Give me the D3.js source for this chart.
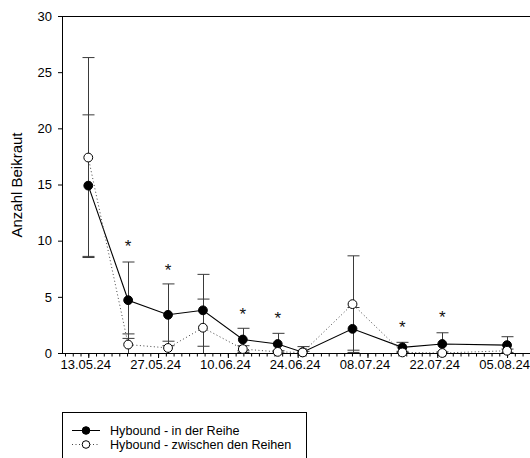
<!DOCTYPE html>
<html><head><meta charset="utf-8">
<script src="https://cdn.jsdelivr.net/npm/d3@7"></script>
<style>
html,body{margin:0;padding:0;background:#fff;}
svg{display:block;font-family:"Liberation Sans",Arial,sans-serif;}
</style></head>
<body>
<svg id="chart" width="530" height="458"></svg>
<script>
// ---- data ----
const sampleDates = ["13.05.24","21.05.24","29.05.24","05.06.24","13.06.24","20.06.24","25.06.24","05.07.24","15.07.24","23.07.24","05.08.24"];
const inRowMean   = [14.9, 4.7, 3.4, 3.8, 1.2, 0.8, 0.07, 2.15, 0.5, 0.8, 0.7];
const inRowSD     = [6.3, 3.4, 2.75, 3.2, 1.0, 0.95, 0.5, 1.9, 0.45, 1.0, 0.75];
const betweenMean = [17.4, 0.75, 0.45, 2.25, 0.35, 0.1, 0.05, 4.35, 0.05, 0.0, 0.2];
const betweenSD   = [8.9, 0.95, 0.6, 2.55, 0.3, 0.1, 0.1, 4.3, 0.1, 0.1, 0.15];
const sigLevel    = [null, 9.8, 7.7, null, 3.75, 3.4, null, null, 2.65, 3.55, null];
const xTickDates  = ["13.05.24","27.05.24","10.06.24","24.06.24","08.07.24","22.07.24","05.08.24"];
const yTicks      = [0,5,10,15,20,25,30];
const seriesNames = ["Hybound - in der Reihe","Hybound - zwischen den Reihen"];

(function(){
// ---- layout ----
const parse = d3.utcParse("%d.%m.%y");
const DAY = 864e5;
const x0 = parse("13.05.24");
const pL = 62, pR = 530, pT = 16, pB = 353;
const x = d3.scaleUtc()
  .domain([new Date(+x0 - 5.27*DAY), new Date(+x0 + 88.6*DAY)])
  .range([pL, pR]);
const y = d3.scaleLinear().domain([0,30]).range([pB, pT]);

const svg = d3.select("#chart");
svg.append("defs").append("clipPath").attr("id","clip")
  .append("rect").attr("x",pL).attr("y",0).attr("width",pR-pL).attr("height",pB);

// y axis
const yAxis = svg.append("g").attr("transform",`translate(${pL},0)`)
  .call(d3.axisLeft(y).tickValues(yTicks).tickSize(4).tickPadding(6).tickSizeOuter(0));
yAxis.select(".domain").attr("stroke","#000");
yAxis.selectAll("text").attr("font-size",13).attr("fill","#000").attr("font-family","Liberation Sans, Arial, sans-serif");

// x axis minor ticks
const minorStep = 14/9*DAY;
const minor = d3.range(-3, 57).map(k => new Date(+x0 + k*minorStep)).filter(d => x(d) > pL+1 && x(d) <= pR);
svg.append("g").attr("transform",`translate(0,${pB})`)
  .call(d3.axisBottom(x).tickValues(minor).tickSize(3.5).tickFormat(""))
  .call(g => g.select(".domain").remove());
const xAxis = svg.append("g").attr("transform",`translate(0,${pB})`)
  .call(d3.axisBottom(x).tickValues(xTickDates.map(parse)).tickSize(5).tickPadding(1.5)
        .tickFormat(d3.utcFormat("%d.%m.%y")).tickSizeOuter(0));
xAxis.select(".domain").attr("d",`M${pL},0.5H${pR}`).attr("stroke","#000");
xAxis.selectAll("text").attr("font-size",13).attr("fill","#000").attr("dx",-3)
  .attr("font-family","Liberation Sans, Arial, sans-serif");

// top frame line
svg.append("line").attr("x1",pL).attr("x2",pR).attr("y1",pT+0.5).attr("y2",pT+0.5)
  .attr("stroke","#000").attr("stroke-width",1);

// y title
svg.append("text").attr("transform",`translate(22,185) rotate(-90)`)
  .attr("text-anchor","middle").attr("font-size",15).attr("fill","#000")
  .text("Anzahl Beikraut");

const pts = sampleDates.map((d,i) => ({
  date: parse(d),
  a: inRowMean[i], asd: inRowSD[i],
  b: betweenMean[i], bsd: betweenSD[i],
  sig: sigLevel[i]
}));

const plot = svg.append("g").attr("clip-path","url(#clip)");

// error bars
function errBars(mk, sk, color){
  const g = plot.append("g").attr("stroke",color).attr("stroke-width",1).attr("fill","none");
  pts.forEach(p => {
    const cx = Math.round(x(p.date))+0.5;
    const lo = y(p[mk]-p[sk]), hi = y(p[mk]+p[sk]);
    g.append("line").attr("x1",cx).attr("x2",cx).attr("y1",lo).attr("y2",hi);
    g.append("line").attr("x1",cx-6).attr("x2",cx+6).attr("y1",hi).attr("y2",hi);
    g.append("line").attr("x1",cx-6).attr("x2",cx+6).attr("y1",lo).attr("y2",lo);
  });
}
errBars("a","asd","#3a3a3a");
errBars("b","bsd","#3a3a3a");

// lines
plot.append("path").datum(pts)
  .attr("d", d3.line().x(p=>x(p.date)).y(p=>y(p.a)))
  .attr("fill","none").attr("stroke","#000").attr("stroke-width",1.1);
plot.append("path").datum(pts)
  .attr("d", d3.line().x(p=>x(p.date)).y(p=>y(p.b)))
  .attr("fill","none").attr("stroke","#444").attr("stroke-width",1).attr("stroke-dasharray","1,2.5");

// markers
svg.append("g").selectAll("circle").data(pts).join("circle")
  .attr("cx",p=>x(p.date)).attr("cy",p=>y(p.a)).attr("r",4.4)
  .attr("fill","#000").attr("stroke","#000");
svg.append("g").selectAll("circle").data(pts).join("circle")
  .attr("cx",p=>x(p.date)).attr("cy",p=>y(p.b)).attr("r",4.4)
  .attr("fill","#fff").attr("stroke","#000").attr("stroke-width",1);

// significance asterisks
svg.append("g").selectAll("text").data(pts.filter(p=>p.sig!=null)).join("text")
  .attr("x",p=>x(p.date)).attr("y",p=>y(p.sig)+9.5)
  .attr("text-anchor","middle").attr("font-size",17).attr("fill","#111")
  .text("*");

// legend
const lg = svg.append("g");
lg.append("rect").attr("x",62.5).attr("y",412.5).attr("width",244).attr("height",60)
  .attr("fill","#fff").attr("stroke","#000").attr("stroke-width",1);
const rows = [
  {name: seriesNames[0], fill:"#000", dash:null, y:430.5},
  {name: seriesNames[1], fill:"#fff", dash:"1,2.5", y:444.5}
];
rows.forEach(r => {
  lg.append("line").attr("x1",72).attr("x2",100).attr("y1",r.y).attr("y2",r.y)
    .attr("stroke", r.dash ? "#444" : "#000").attr("stroke-width",1)
    .attr("stroke-dasharray", r.dash);
  lg.append("circle").attr("cx",86).attr("cy",r.y).attr("r",3.8)
    .attr("fill",r.fill).attr("stroke","#000");
  lg.append("text").attr("x",110).attr("y",r.y).attr("dy","0.35em")
    .attr("font-size",12.6).attr("fill","#000").text(r.name);
});
})();
</script>
</body></html>
